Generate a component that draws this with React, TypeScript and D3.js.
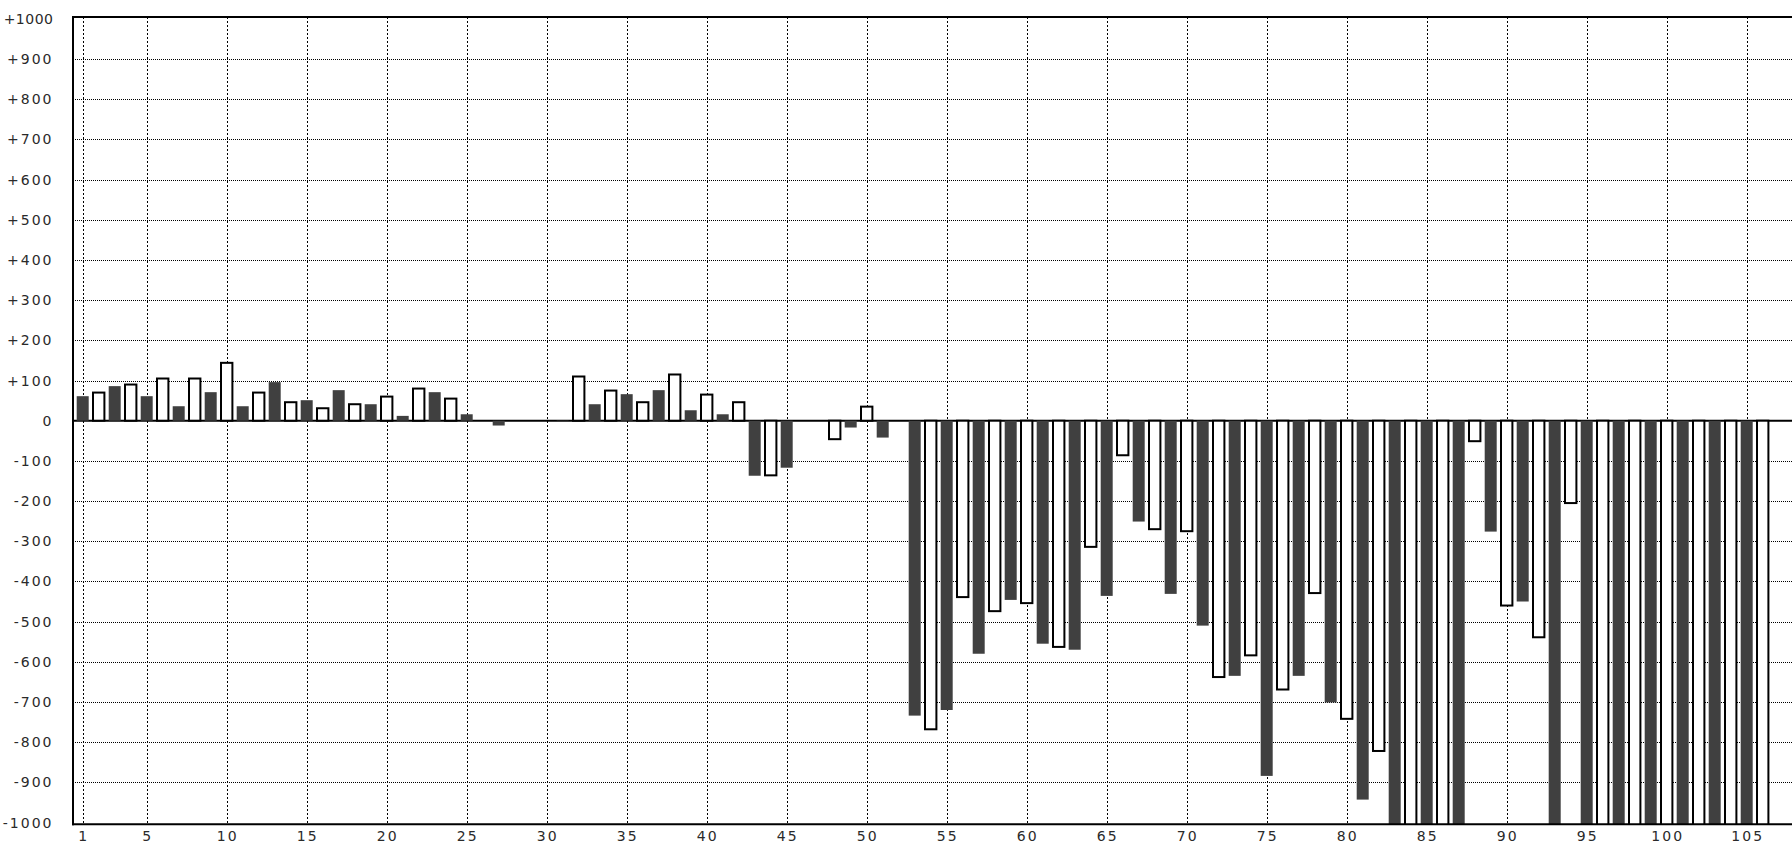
import React from 'react';
import * as d3 from 'd3';

// Categories 1..106; dark series sits on odd categories, outlined series on even ones
const darkCategories = d3.range(1, 106, 2);
const lightCategories = d3.range(2, 107, 2);

// Dark (filled) series values at categories 1,3,5,...,105
const darkValues = [
  61, 86, 61, 36, 71,
  36, 96, 51, 76, 41,
  12, 71, 16, -12, 0,
  -3, 41, 66, 76, 26,
  16, -137, -117, 0, -17,
  -42, -734, -720, -580, -446,
  -555, -570, -436, -251, -431,
  -510, -635, -884, -635, -701,
  -943, -1100, -1100, -1100, -276,
  -450, -1100, -1100, -1100, -1100,
  -1100, -1100, -1100,
];

// Outlined (white) series values at categories 2,4,6,...,106
const lightValues = [
  70, 90, 105, 105, 144,
  70, 46, 31, 41, 60,
  80, 55, 0, 0, 0,
  110, 75, 46, 115, 65,
  46, -136, 0, -46, 35,
  0, -768, -439, -474, -454,
  -563, -314, -86, -270, -275,
  -638, -584, -669, -429, -742,
  -822, -1100, -1100, -51, -460,
  -539, -205, -1100, -1100, -1100,
  -1100, -1100, -1100,
];

const xTickValues = [1, 5, 10, 15, 20, 25, 30, 35, 40, 45, 50, 55, 60, 65, 70, 75, 80, 85, 90, 95, 100, 105];
const yTickValues = [-1000, -900, -800, -700, -600, -500, -400, -300, -200, -100, 0, 100, 200, 300, 400, 500, 600, 700, 800, 900, 1000];

const W = 1792;
const H = 846;
const FONT = '"DejaVu Sans", sans-serif';

export default function App() {
  const x = d3.scaleLinear().domain([1, 105]).range([82.7, 1746.7]);
  const y = d3.scaleLinear().domain([-1000, 1000]).range([822.5, 18.9]);

  const left = 73;
  const top = 17;
  const bottom = 824.3;
  const y0 = y(0);

  const fmt = (v: number) => (v > 0 ? `+${v}` : v < 0 ? `-${Math.abs(v)}` : '0');

  const darkData = darkCategories.map((c, i) => ({ c, v: darkValues[i] }));
  const lightData = lightCategories.map((c, i) => ({ c, v: lightValues[i] }));

  return (
    <svg
      width={W}
      height={H}
      style={{ position: 'absolute', left: 0, top: 0, display: 'block', background: '#fff' }}
    >
      <defs>
        <clipPath id="plotClip">
          <rect x={left} y={top + 1} width={W} height={bottom - top - 1} />
        </clipPath>
      </defs>
      <rect x={0} y={0} width={W} height={H} fill="#fff" />

      {/* horizontal grid */}
      <g>
        {yTickValues
          .filter((v) => v !== 0 && Math.abs(v) < 1000)
          .map((v) => (
            <line
              key={`hg${v}`}
              x1={left}
              x2={W}
              y1={Math.round(y(v)) + 0.5}
              y2={Math.round(y(v)) + 0.5}
              stroke="#000"
              strokeWidth={1}
              strokeDasharray="1,1"
            />
          ))}
      </g>
      {/* vertical grid */}
      <g>
        {xTickValues.map((v) => (
          <line
            key={`vg${v}`}
            x1={Math.round(x(v)) + 0.5}
            x2={Math.round(x(v)) + 0.5}
            y1={top}
            y2={bottom}
            stroke="#000"
            strokeWidth={1}
            strokeDasharray="2,2"
          />
        ))}
      </g>

      {/* zero line */}
      <line x1={left} x2={W} y1={y0} y2={y0} stroke="#000" strokeWidth={2} />

      <g clipPath="url(#plotClip)">
        {darkData
          .filter((d) => d.v !== 0)
          .map((d) => (
            <rect
              key={`d${d.c}`}
              x={x(d.c) - 6}
              width={12}
              y={Math.min(y(d.v), y0)}
              height={Math.abs(y(d.v) - y0)}
              fill="#404040"
            />
          ))}
        {lightData
          .filter((d) => d.v !== 0)
          .map((d) => (
            <rect
              key={`l${d.c}`}
              x={x(d.c) - 5.7}
              width={11.4}
              y={Math.min(y(d.v), y0)}
              height={Math.abs(y(d.v) - y0)}
              fill="#fff"
              stroke="#000"
              strokeWidth={2}
            />
          ))}
      </g>

      {/* frame */}
      <line x1={72} x2={W} y1={top} y2={top} stroke="#000" strokeWidth={2} />
      <line x1={72} x2={W} y1={bottom} y2={bottom} stroke="#000" strokeWidth={2} />
      <line x1={left} x2={left} y1={top - 1} y2={bottom + 1} stroke="#000" strokeWidth={2} />

      {/* y labels */}
      <g fontFamily={FONT} fontSize={14} fill="#2a2a2a">
        {yTickValues.map((v) => (
          <text
            key={`yl${v}`}
            x={53.5}
            y={Math.max(y(v), 15)}
            dy="0.36em"
            textAnchor="end"
            letterSpacing={v === 1000 ? 0.5 : 2}
          >
            {fmt(v)}
          </text>
        ))}
      </g>

      {/* x labels */}
      <g fontFamily={FONT} fontSize={14} fill="#2a2a2a" letterSpacing={2}>
        {xTickValues.map((v) => (
          <text key={`xl${v}`} x={x(v) + 1} y={841} textAnchor="middle">
            {v}
          </text>
        ))}
      </g>
    </svg>
  );
}
